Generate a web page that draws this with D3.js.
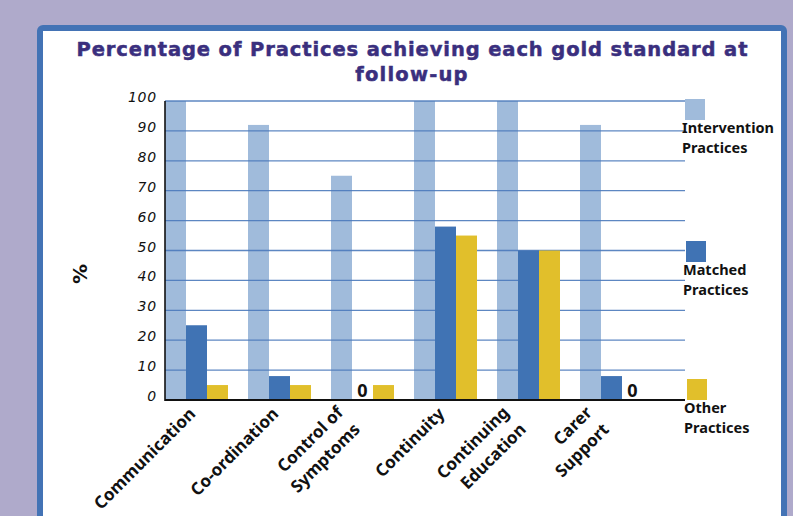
<!DOCTYPE html>
<html><head><meta charset="utf-8">
<script src="https://cdn.jsdelivr.net/npm/d3@7"></script>
<style>
html,body{margin:0;padding:0;background:#afaacb;}
svg{display:block;}
</style></head>
<body>
<svg id="chart" width="793" height="516"></svg>
<script>
// ---- data ----
const categories = ["Communication","Co-ordination","Control of Symptoms","Continuity","Continuing Education","Carer Support"];
const categoryLines = [["Communication"],["Co-ordination"],["Control of","Symptoms"],["Continuity"],["Continuing","Education"],["Carer","Support"]];
const seriesNames = ["Intervention Practices","Matched Practices","Other Practices"];
const intervention = [100, 92, 75, 100, 100, 92];
const matched = [25, 8, 0, 58, 50, 8];
const other = [5, 5, 5, 55, 50, 0];
const yTicks = [0,10,20,30,40,50,60,70,80,90,100];
const titleLines = ["Percentage of Practices achieving each gold standard at","follow-up"];
const yLabel = "%";

// ---- layout / style ----
const colors = ["#a0bbdb", "#4073b4", "#e1bf2b"];
const svg = d3.select("#chart");
const W = 793, H = 516;

svg.append("rect").attr("width", W).attr("height", H).attr("fill", "#afaacb");
svg.append("rect").attr("x", 40).attr("y", 28).attr("width", 744).attr("height", 520)
  .attr("rx", 3).attr("fill", "#ffffff").attr("stroke", "#4373b5").attr("stroke-width", 6);

// title
svg.append("g").selectAll("text").data(titleLines).join("text")
  .attr("x", 412).attr("y", (d,i) => 56 + i*25)
  .attr("text-anchor", "middle")
  .attr("font-family", "DejaVu Sans, sans-serif").attr("font-weight", "bold")
  .attr("font-size", 19.5).attr("fill", "#3a2f7e")
  .attr("stroke", "#3a2f7e").attr("stroke-width", 0.5).attr("stroke-linejoin", "round")
  .attr("letter-spacing", (d,i) => i === 0 ? null : 1.2)
  .attr("textLength", (d,i) => i === 0 ? 671 : null)
  .attr("lengthAdjust", "spacing")
  .text(d => d);

const plotLeft = 165, plotRight = 685;
const y = d3.scaleLinear().domain([0, 100]).range([400, 101]);
const x0 = d3.scaleBand().domain(categories).range([165, 643]).paddingInner(0.241).paddingOuter(0);
const x1 = d3.scaleBand().domain(seriesNames).range([0, x0.bandwidth()]);
const seriesData = [intervention, matched, other];

const rows = [];
categories.forEach((c, i) => seriesNames.forEach((s, j) => rows.push({cat: c, ser: s, j, v: seriesData[j][i]})));

// intervention bars (behind grid)
svg.append("g").selectAll("rect").data(rows.filter(r => r.j === 0)).join("rect")
  .attr("x", d => x0(d.cat) + x1(d.ser)).attr("width", x1.bandwidth())
  .attr("y", d => y(d.v)).attr("height", d => y(0) - y(d.v))
  .attr("fill", colors[0]);

// gridlines
svg.append("g").selectAll("line").data(yTicks.filter(t => t > 0)).join("line")
  .attr("x1", plotLeft).attr("x2", plotRight)
  .attr("y1", d => y(d)).attr("y2", d => y(d))
  .attr("stroke", "#4b7abb").attr("stroke-width", 1.3).attr("stroke-opacity", 0.9);

// other bars
svg.append("g").selectAll("rect").data(rows.filter(r => r.j > 0 && r.v > 0)).join("rect")
  .attr("x", d => x0(d.cat) + x1(d.ser)).attr("width", x1.bandwidth())
  .attr("y", d => y(d.v)).attr("height", d => y(0) - y(d.v))
  .attr("fill", d => colors[d.j]);

// zero labels
svg.append("g").selectAll("text").data(rows.filter(r => r.v === 0)).join("text")
  .attr("x", d => x0(d.cat) + x1(d.ser) + x1.bandwidth()/2)
  .attr("y", y(0) - 3)
  .attr("text-anchor", "middle")
  .attr("font-family", "Noto Sans, sans-serif").attr("font-weight", "bold").attr("font-size", 18)
  .attr("fill", "#111").text("0");

// axes lines
svg.append("line").attr("x1", plotLeft).attr("x2", plotLeft).attr("y1", y(100)).attr("y2", y(0) + 1)
  .attr("stroke", "#111").attr("stroke-width", 1.6);
svg.append("line").attr("x1", plotLeft).attr("x2", plotRight).attr("y1", y(0)).attr("y2", y(0))
  .attr("stroke", "#111").attr("stroke-width", 2);

// y tick labels
svg.append("g").selectAll("text").data(yTicks).join("text")
  .attr("x", 157).attr("y", d => y(d) + 1)
  .attr("text-anchor", "end")
  .attr("font-family", "DejaVu Sans, sans-serif").attr("font-style", "italic")
  .attr("font-size", 14).attr("letter-spacing", 0.8).attr("fill", "#111")
  .text(d => d);

// y label
svg.append("text").attr("transform", "translate(87,274) rotate(-90)")
  .attr("text-anchor", "middle")
  .attr("font-family", "DejaVu Sans, sans-serif").attr("font-weight", "bold").attr("font-size", 20)
  .attr("fill", "#111").text(yLabel);

// x labels (rotated, anchored on group centres)
const xg = svg.append("g").selectAll("text").data(categories).join("text")
  .attr("transform", d => `translate(${x0(d) + x0.bandwidth()/2},415) rotate(-45)`)
  .attr("text-anchor", "end")
  .attr("font-family", "Noto Sans, sans-serif").attr("font-weight", "bold").attr("font-size", 17)
  .attr("fill", "#111");
xg.each(function(d, i) {
  const lines = categoryLines[i];
  const n = lines.length;
  d3.select(this).selectAll("tspan").data(lines).join("tspan")
    .attr("x", n > 1 ? -12 : 0)
    .attr("dy", (l, k) => k === 0 ? -(n - 1) * 12 - (n > 1 ? 2 : 0) : 24)
    .text(l => l);
});

// legend
const legendY = [99, 241, 379];
const lg = svg.append("g").selectAll("g").data(seriesNames).join("g");
lg.append("rect").attr("x", (d,i) => 685 + i).attr("y", (d,i) => legendY[i])
  .attr("width", 20).attr("height", 21).attr("fill", (d,i) => colors[i]);
lg.append("text").attr("x", (d,i) => 682 + i).attr("y", (d,i) => legendY[i] + 34)
  .attr("font-family", "Noto Sans, sans-serif").attr("font-weight", "bold").attr("font-size", 14.5)
  .attr("fill", "#111")
  .selectAll("tspan").data(d => d.split(" ")).join("tspan")
  .attr("x", function() { return d3.select(this.parentNode).attr("x"); })
  .attr("dy", (l, k) => k === 0 ? 0 : 20)
  .text(l => l);
</script>
</body></html>
